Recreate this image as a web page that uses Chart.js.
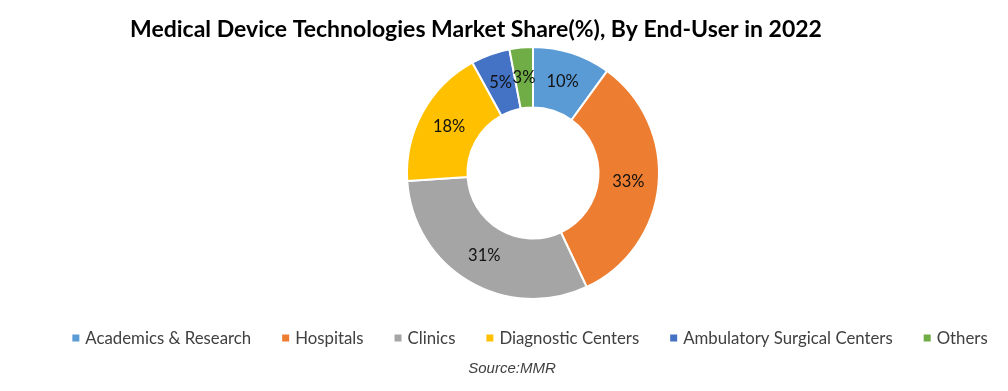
<!DOCTYPE html>
<html>
<head>
<meta charset="utf-8">
<script src="https://cdn.jsdelivr.net/npm/chart.js@4.4.0/dist/chart.umd.min.js"></script>
<style>
  html, body { margin: 0; padding: 0; background: #fff; }
  #wrap { width: 1008px; height: 391px; position: relative; }
</style>
</head>
<body>
<div id="wrap"><canvas id="shareChart"></canvas></div>
<script>
const categories = ["Academics & Research", "Hospitals", "Clinics", "Diagnostic Centers", "Ambulatory Surgical Centers", "Others"];
const shares = [10, 33, 31, 18, 5, 3];
const sliceColors = ["#5B9BD5", "#ED7D31", "#A5A5A5", "#FFC000", "#4472C4", "#70AD47"];
const chartTitle = "Medical Device Technologies Market Share(%), By End-User in 2022";
const sourceNote = "Source:MMR";

// title, slice labels, legend and source note drawn on the canvas
const decorations = {
  id: "decorations",
  afterDraw(chart) {
    const ctx = chart.ctx;
    ctx.save();

    // title
    ctx.fillStyle = "#000";
    ctx.font = "bold 23px Lato";
    ctx.textAlign = "center";
    ctx.textBaseline = "middle";
    ctx.fillText(chartTitle, 476, 30);

    // percentage labels at the middle of each arc
    const meta = chart.getDatasetMeta(0);
    ctx.font = "16.5px Lato";
    ctx.fillStyle = "#111";
    meta.data.forEach((arc, i) => {
      const pos = arc.tooltipPosition();
      ctx.fillText(shares[i] + "%", pos.x, pos.y);
    });

    // legend
    ctx.font = "16.8px Lato";
    ctx.textAlign = "left";
    const box = 7, boxGap = 6, itemGap = 31;
    const widths = categories.map(c => box + boxGap + ctx.measureText(c).width);
    const total = widths.reduce((a, b) => a + b, 0) + itemGap * (categories.length - 1);
    let x = 530 - total / 2;
    const y = 338;
    categories.forEach((c, i) => {
      ctx.fillStyle = sliceColors[i];
      ctx.fillRect(x, y - box / 2, box, box);
      ctx.fillStyle = "#404040";
      ctx.fillText(c, x + box + boxGap, y + 1);
      x += widths[i] + itemGap;
    });

    // source
    ctx.font = "italic 15px 'Liberation Sans'";
    ctx.fillStyle = "#404040";
    ctx.textAlign = "center";
    ctx.fillText(sourceNote, 512, 369);

    ctx.restore();
  }
};

new Chart(document.getElementById("shareChart"), {
  type: "doughnut",
  data: {
    labels: categories,
    datasets: [{
      data: shares,
      backgroundColor: sliceColors,
      borderColor: "#ffffff",
      borderWidth: 2
    }]
  },
  options: {
    responsive: true,
    maintainAspectRatio: false,
    animation: false,
    cutout: "52%",
    layout: { padding: { top: 46, bottom: 91, left: 58, right: 0 } },
    plugins: {
      legend: { display: false },
      tooltip: { enabled: false },
      title: { display: false }
    }
  },
  plugins: [decorations]
});
</script>
</body>
</html>
